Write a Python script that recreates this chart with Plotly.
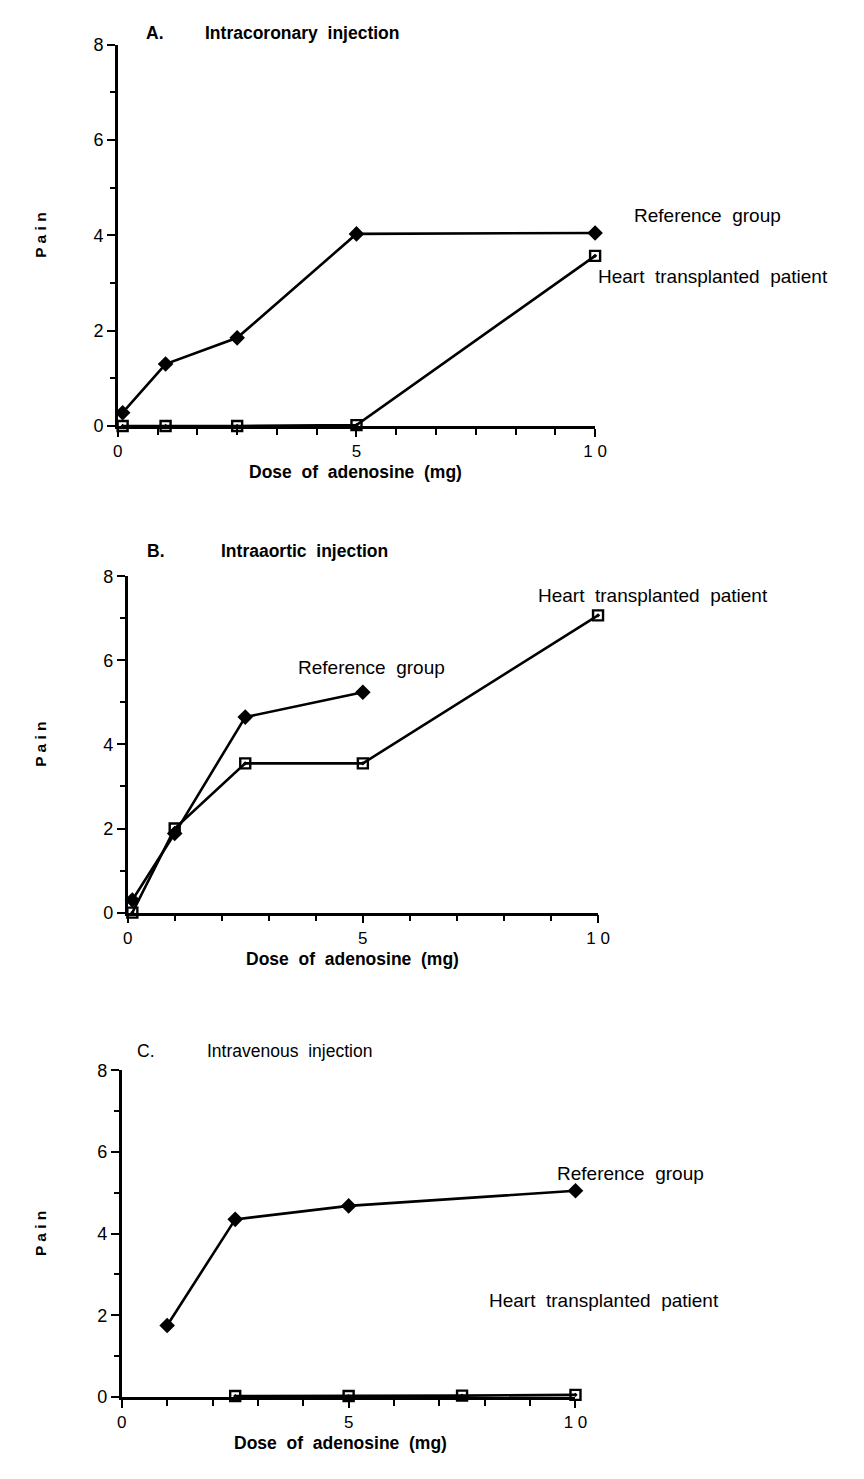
import plotly.graph_objects as go

# ---------------- data ----------------
dose_A = [0.1, 1, 2.5, 5, 10]
ref_A = [0.28, 1.3, 1.85, 4.03, 4.05]
heart_A = [0.0, 0.0, 0.0, 0.02, 3.57]

dose_B_ref = [0.1, 1, 2.5, 5]
ref_B = [0.3, 1.88, 4.65, 5.24]
dose_B_heart = [0.1, 1, 2.5, 5, 10]
heart_B = [0.0, 2.0, 3.55, 3.55, 7.07]

dose_C_ref = [1, 2.5, 5, 10]
ref_C = [1.75, 4.35, 4.68, 5.05]
dose_C_heart = [2.5, 5, 7.5, 10]
heart_C = [0.02, 0.02, 0.03, 0.05]

panel_letters = ["A.", "B.", "C."]
panel_titles = ["Intracoronary  injection", "Intraaortic  injection", "Intravenous  injection"]
series_names = ["Reference  group", "Heart  transplanted  patient"]
x_ticks = [0, 5, 10]
x_ticktext = ["0", "5", "1 0"]
y_ticks = [0, 2, 4, 6, 8]
x_title = "Dose  of  adenosine  (mg)"
y_title = "P a i n"

# page body has an 8px default margin; figure placed at (8, 8)
OFF = 8
W, H = 848, 1463
def px(x):
    return (x - OFF) / W
def py(y):
    return 1 - (y - OFF) / H

# pixel geometry of each panel on the page: (x at 0, x at 10, y at 0, y at 8)
geo = [(115, 602, 421.7, 35), (125, 605, 915, 574), (119, 582, 1406, 1075)]
minor_dx = [10 / 12, 1, 1]

fig = go.Figure()
FONT = "Liberation Sans, Arial, Helvetica, sans-serif"

panels = [
    (dose_A, ref_A, dose_A, heart_A),
    (dose_B_ref, ref_B, dose_B_heart, heart_B),
    (dose_C_ref, ref_C, dose_C_heart, heart_C),
]

for i, (xr, yr, xh, yh) in enumerate(panels):
    n = "" if i == 0 else str(i + 1)
    xa, ya = "x" + n, "y" + n
    fig.add_trace(go.Scatter(x=xh, y=yh, mode="lines+markers", name=series_names[1],
                             xaxis=xa, yaxis=ya, cliponaxis=False,
                             line=dict(color="black", width=2.6),
                             marker=dict(symbol="square-open-dot", size=10, color="black",
                                         line=dict(width=2.4, color="black"))))
    fig.add_trace(go.Scatter(x=xr, y=yr, mode="lines+markers", name=series_names[0],
                             xaxis=xa, yaxis=ya, cliponaxis=False,
                             line=dict(color="black", width=2.6),
                             marker=dict(symbol="diamond", size=12, color="black")))
    x0, x10, y0, y8 = geo[i]
    axx = dict(domain=[px(x0), px(x10)], range=[0, 10], anchor=ya,
               showgrid=False, zeroline=False, showline=True, linecolor="black", linewidth=2.6,
               ticks="outside", ticklen=8, tickwidth=2, tickcolor="black",
               tickvals=x_ticks, ticktext=x_ticktext,
               tickfont=dict(family=FONT, size=17, color="black"),
               minor=dict(ticks="outside", dtick=minor_dx[i], tick0=0, ticklen=6, tickwidth=2,
                          tickcolor="black", showgrid=False))
    axy = dict(domain=[py(y0), py(y8)], range=[0, 8], anchor=xa,
               showgrid=False, zeroline=False, showline=True, linecolor="black", linewidth=2.6,
               ticks="outside", ticklen=8, tickwidth=2, tickcolor="black",
               tickvals=y_ticks, tickfont=dict(family=FONT, size=18, color="black"),
               minor=dict(ticks="outside", dtick=1, tick0=0, ticklen=5, tickwidth=2,
                          tickcolor="black", showgrid=False))
    fig.layout["xaxis" + n] = axx
    fig.layout["yaxis" + n] = axy

annotations = []
def ann(text, x, y, size=16, bold=False, xanchor="left", angle=0):
    annotations.append(dict(text=("<b>%s</b>" % text) if bold else text,
                            x=px(x), y=py(y), xref="paper", yref="paper",
                            xanchor=xanchor, yanchor="middle", showarrow=False,
                            textangle=angle,
                            font=dict(family=FONT, size=size, color="black")))

# panel titles
title_pos = [(142, 202, 23), (143, 218, 548), (133, 204, 1055)]
for i, (lx, tx, ty) in enumerate(title_pos):
    ann(panel_letters[i], lx, ty, size=17.5, bold=(i < 2))
    ann(panel_titles[i], tx, ty, size=17.5, bold=(i < 2))

# axis titles
xt_center = [358, 354, 342]
for i, (x0, x10, y0, y8) in enumerate(geo):
    ann(y_title, 36, (y0 + y8) / 2, size=15.5, bold=True, xanchor="center", angle=-90)
    ann(x_title, xt_center[i], y0 + 47, size=17.5, bold=True, xanchor="center")

# curve labels
LS = 19
ann(series_names[0], 640, 208, size=LS)
ann(series_names[1], 603, 270, size=LS)
ann(series_names[1], 542, 593, size=LS)
ann(series_names[0], 297, 667, size=LS)
ann(series_names[0], 561, 1180, size=LS)
ann(series_names[1], 492, 1308, size=LS)

fig.update_layout(width=W, height=H, autosize=False,
                  margin=dict(l=0, r=0, t=0, b=0),
                  paper_bgcolor="white", plot_bgcolor="white",
                  showlegend=False, annotations=annotations)

fig.write_html("out.html")
